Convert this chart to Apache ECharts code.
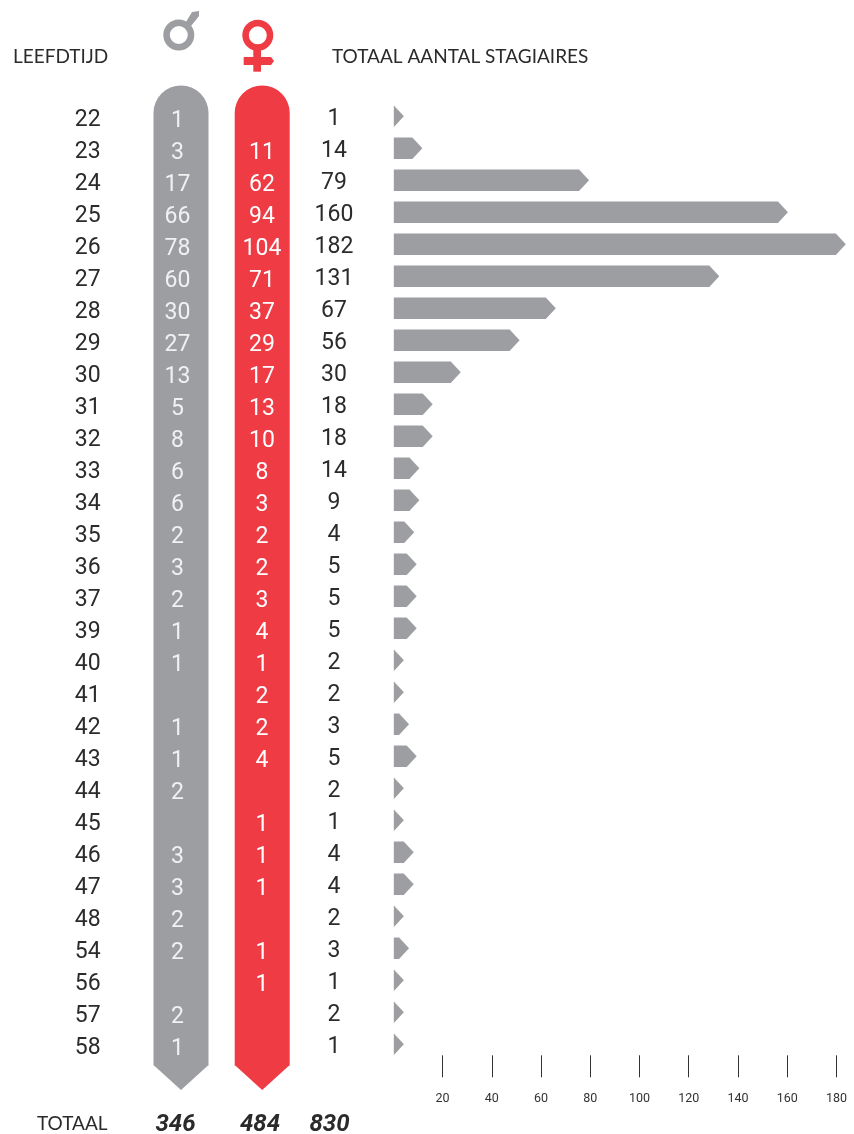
<!DOCTYPE html>
<html>
<head>
<meta charset="utf-8">
<style>
    html, body { margin: 0; padding: 0; background: #fff; }
    #chart { width: 854px; height: 1134px; }
</style>
<script src="https://cdn.jsdelivr.net/npm/echarts@6/dist/echarts.min.js"></script>
</head>
<body>
<div id="chart"></div>
<script>
const ages = [22, 23, 24, 25, 26, 27, 28, 29, 30, 31, 32, 33, 34, 35, 36, 37, 39, 40, 41, 42, 43, 44, 45, 46, 47, 48, 54, 56, 57, 58]
const male = [1, 3, 17, 66, 78, 60, 30, 27, 13, 5, 8, 6, 6, 2, 3, 2, 1, 1, null, 1, 1, 2, null, 3, 3, 2, 2, null, 2, 1]
const female = [null, 11, 62, 94, 104, 71, 37, 29, 17, 13, 10, 8, 3, 2, 2, 3, 4, 1, 2, 2, 4, null, 1, 1, 1, null, 1, 1, null, null]
const totals = [1, 14, 79, 160, 182, 131, 67, 56, 30, 18, 18, 14, 9, 4, 5, 5, 5, 2, 2, 3, 5, 2, 1, 4, 4, 2, 3, 1, 2, 1]
// arrow lengths as read against the axis, the source draws them a bit off the totals
const barLengths = [4.3, 11.8, 79.5, 160.3, 183.8, 132.4, 66, 51.3, 27.4, 16, 16, 10.6, 10.6, 8.5, 9.5, 9.5, 9.5, 4.3, 4.3, 6.4, 9.5, 4.3, 4.3, 8.3, 8.3, 4.3, 6.4, 4.3, 4.3, 4.3]
const axisTicks = [20, 40, 60, 80, 100, 120, 140, 160, 180]
const grandTotals = [346, 484, 830]

const GREY = '#9d9ea2'
const RED = '#ef3b44'
const INK = '#2b2b2b'
const HEAD_FONT = 'Lato'

// one text column, the row height comes from the category axis
const textColumn = (values, x, dy, color) => ({
    type: 'custom',
    silent: true,
    z: 5,
    data: values.map((v, i) => [i, v]),
    renderItem: (params, api) => {
        const v = values[api.value(0)]
        if (v === null) return null
        return {
            type: 'text',
            style: {
                x: x,
                y: api.coord([0, api.value(0)])[1] + dy,
                text: String(v),
                fill: color,
                fontFamily: 'Roboto',
                fontSize: 23,
                align: 'center',
                verticalAlign: 'middle'
            }
        }
    }
})

const arrowSeries = {
    type: 'custom',
    silent: true,
    data: barLengths.map((v, i) => [v, i]),
    encode: { x: 0, y: 1 },
    renderItem: (params, api) => {
        const start = api.coord([0.2, api.value(1)])
        const end = api.coord([api.value(0), api.value(1)])
        const half = 10.8
        const neck = Math.max(end[0] - 10, start[0])
        const points = [
            [start[0], start[1] - half],
            [neck, start[1] - half],
            [end[0], start[1]],
            [neck, start[1] + half],
            [start[0], start[1] + half]
        ]
        return { type: 'polygon', shape: { points: points }, style: { fill: GREY } }
    }
}

const pill = (left, color) => [
    { type: 'rect', shape: { x: left, y: 85.5, width: 55, height: 980, r: [27.5, 27.5, 0, 0] }, style: { fill: color } },
    { type: 'polygon', shape: { points: [[left, 1065], [left + 55, 1065], [left + 27.5, 1090]] }, style: { fill: color } }
]

const label = (text, x, y, extra) => ({
    type: 'text',
    style: Object.assign({ x: x, y: y, text: text, fill: INK, verticalAlign: 'middle' }, extra)
})

const headStyle = { fontFamily: HEAD_FONT, fontSize: 19, fontWeight: 400, align: 'left' }
const sumStyle = { fontFamily: 'Roboto', fontSize: 24, fontWeight: 700, fontStyle: 'italic', align: 'center' }

const chart = echarts.init(document.getElementById('chart'))
chart.setOption({
    animation: false,
    backgroundColor: '#fff',
    grid: { left: 393.3, top: 100.3, width: 453, height: 960 },
    xAxis: {
        type: 'value',
        min: 0,
        max: 184,
        offset: -5,
        splitLine: { show: false },
        axisLine: { show: false },
        axisTick: { show: true, length: 22, customValues: axisTicks, lineStyle: { color: '#333', width: 1 } },
        axisLabel: { margin: 37, customValues: axisTicks, fontFamily: 'Roboto', fontSize: 12.5, color: '#333' }
    },
    yAxis: {
        type: 'category',
        inverse: true,
        data: ages,
        axisLine: { show: false },
        axisTick: { show: false },
        axisLabel: { show: false }
    },
    graphic: [
        ...pill(153.5, GREY),
        ...pill(234.7, RED),
        // male sign
        { type: 'ring', shape: { cx: 178.8, cy: 35, r: 15.5, r0: 9 }, style: { fill: GREY } },
        { type: 'polygon', shape: { points: [[192, 12], [199, 11], [199, 16], [191, 26], [186, 22]] }, style: { fill: GREY } },
        // female sign
        { type: 'ring', shape: { cx: 257.8, cy: 35.3, r: 15.5, r0: 9 }, style: { fill: RED } },
        { type: 'rect', shape: { x: 253.3, y: 50, width: 7.7, height: 21.7 }, style: { fill: RED } },
        { type: 'polygon', shape: { points: [[243.7, 57], [271, 57], [274, 61], [271, 65], [243.7, 65]] }, style: { fill: RED } },
        label('LEEFDTIJD', 13, 57, headStyle),
        label('TOTAAL AANTAL STAGIAIRES', 332, 57, headStyle),
        label('TOTAAL', 37, 1124, headStyle),
        label(String(grandTotals[0]), 175.5, 1125, sumStyle),
        label(String(grandTotals[1]), 260, 1125, sumStyle),
        label(String(grandTotals[2]), 329.5, 1125, sumStyle)
    ],
    series: [
        arrowSeries,
        textColumn(ages, 87.7, 3.5, INK),
        textColumn(male, 177.5, 4.5, '#f1f1f2'),
        textColumn(female, 262, 4.5, '#ffffff'),
        textColumn(totals, 334, 2.7, INK)
    ]
})
</script>
</body>
</html>
